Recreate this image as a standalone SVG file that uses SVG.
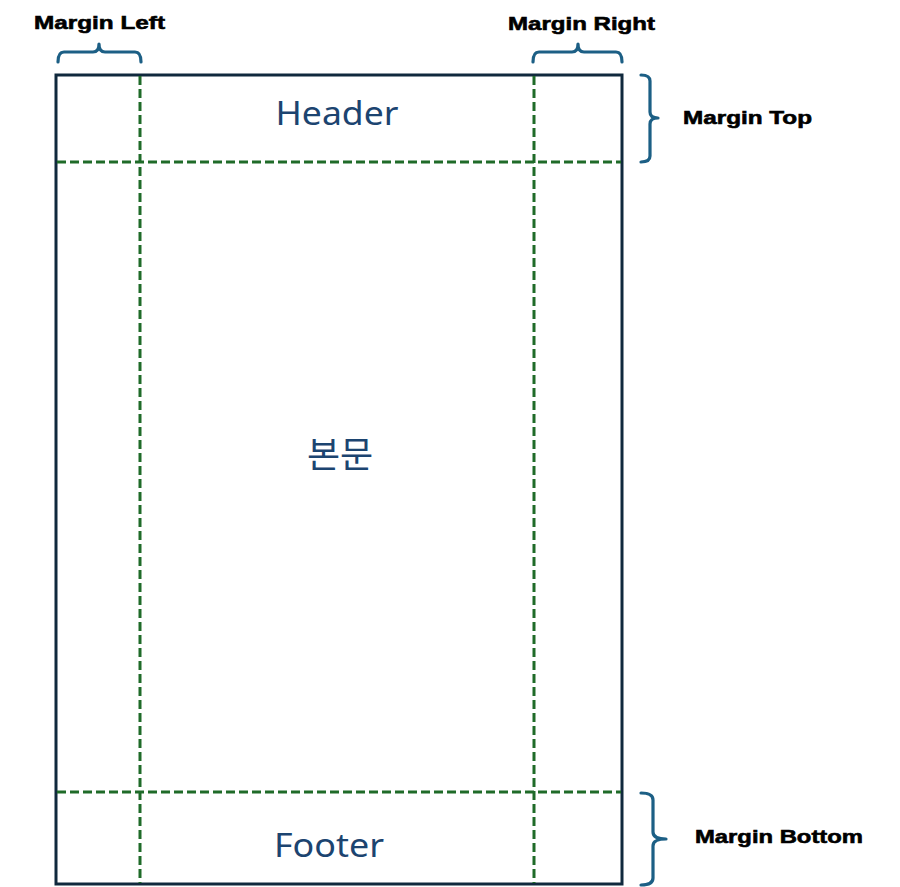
<svg xmlns="http://www.w3.org/2000/svg" width="900" height="887" viewBox="0 0 900 887">
<style>
.page{fill:#ffffff;stroke:#10293d;stroke-width:3}
.guide{fill:none;stroke:#1f6b29;stroke-width:3;stroke-dasharray:9 4}
.brace{fill:none;stroke:#1c5f85;stroke-width:3.2;stroke-linecap:round;stroke-linejoin:round}
.lbl{font-family:"Liberation Sans","Noto Sans",sans-serif;font-weight:bold;font-size:19px;fill:#000000;stroke:#000000;stroke-width:0.6}
.zone{font-family:"Noto Sans","Noto Sans CJK KR",sans-serif;fill:#1c4470;text-anchor:middle}
</style>
<rect width="900" height="887" fill="#ffffff"/>
<g id="page">
<rect class="page" x="56" y="75" width="566" height="809"/>
</g>
<g id="guides">
<line class="guide" x1="140" y1="76" x2="140" y2="883"/>
<line class="guide" x1="534" y1="76" x2="534" y2="883"/>
<line class="guide" x1="57" y1="162" x2="621" y2="162"/>
<line class="guide" x1="57" y1="792" x2="621" y2="792"/>
</g>
<g id="header"><text class="zone" x="337" y="125" font-size="33" textLength="123" lengthAdjust="spacingAndGlyphs">Header</text></g>
<g id="body"><text class="zone" x="340" y="468" font-size="36">본문</text></g>
<g id="footer"><text class="zone" x="329" y="857" font-size="33" textLength="110" lengthAdjust="spacingAndGlyphs">Footer</text></g>
<g id="connectors">
<path class="brace" d="M58,62 Q58,52 64,52 L93,52 Q99,52 99,44 Q99,52 105,52 L135,52 Q141,52 141,62"/>
<path class="brace" d="M533,62 Q533,52 539,52 L572,52 Q578,52 578,44 Q578,52 584,52 L616,52 Q622,52 622,62"/>
<path class="brace" d="M641,75 Q650,75 650,81 L650,112 Q650,118 658,118 Q650,118 650,124 L650,156 Q650,162 641,162"/>
<path class="brace" d="M641,793 Q653,793 653,800 L653,832 Q653,839 666,839 Q653,839 653,846 L653,878 Q653,885 641,885"/>
</g>
<g id="labels">
<text class="lbl" x="34" y="29" textLength="131" lengthAdjust="spacingAndGlyphs">Margin Left</text>
<text class="lbl" x="508" y="30" textLength="147" lengthAdjust="spacingAndGlyphs">Margin Right</text>
<text class="lbl" x="683" y="124" textLength="129" lengthAdjust="spacingAndGlyphs">Margin Top</text>
<text class="lbl" x="695" y="843" textLength="168" lengthAdjust="spacingAndGlyphs">Margin Bottom</text>
</g>
</svg>
